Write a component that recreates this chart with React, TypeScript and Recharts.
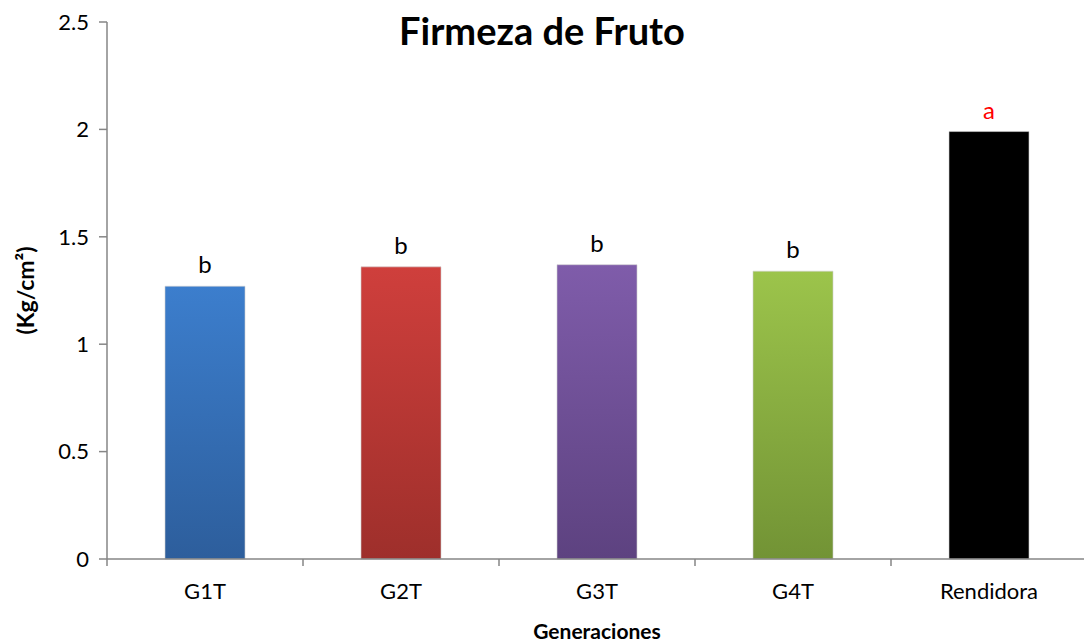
import { BarChart, Bar, XAxis, YAxis, Cell, LabelList } from 'recharts'

const categories = ['G1T', 'G2T', 'G3T', 'G4T', 'Rendidora']
const firmeza = [1.27, 1.36, 1.37, 1.34, 1.99]
const letras = ['b', 'b', 'b', 'b', 'a']
const yTicks = [0, 0.5, 1, 1.5, 2, 2.5]
const boundaryTicks = [0, 1, 2, 3, 4, 5]

// top / bottom colour of each bar's gradient
const gradTop = ['#3c7ecd', '#cf3f3c', '#7f5caa', '#9cc44b', '#000000']
const gradBottom = ['#2d5e9c', '#9e2f2b', '#5d4280', '#729335', '#000000']

const data = categories.map((name, i) => ({ name, firmeza: firmeza[i], letra: letras[i] }))

const FONT = 'Lato, "Open Sans", sans-serif'

function LetterLabel(props: any) {
  const { x, y, width, value } = props
  return (
    <text
      x={Number(x) + Number(width) / 2}
      y={Number(y) - 13}
      textAnchor="middle"
      fontFamily={FONT}
      fontSize={24}
      fill={value === 'a' ? '#ff0000' : '#000000'}
    >
      {value}
    </text>
  )
}

function YTitle(props: any) {
  const { viewBox } = props
  const cx = 25
  const cy = viewBox.y + viewBox.height / 2
  return (
    <text
      x={cx}
      y={cy}
      transform={`rotate(-90 ${cx} ${cy})`}
      textAnchor="middle"
      dominantBaseline="central"
      fontFamily={FONT}
      fontSize={23}
      fontWeight={700}
      fill="#000"
    >
      (Kg/cm²)
    </text>
  )
}

export default function App() {
  return (
    <div style={{ position: 'absolute', left: 0, top: 0, width: 1084, height: 643, overflow: 'hidden', background: '#fff' }}>
      <div
        style={{
          position: 'absolute', left: 0, width: 1084, top: 7, textAlign: 'center',
          fontFamily: FONT, fontWeight: 700, fontSize: 38, color: '#000', lineHeight: '46px',
        }}
      >
        Firmeza de Fruto
      </div>
      <BarChart
        width={1092}
        height={643}
        data={data}
        margin={{ top: 22, right: 5, left: 0, bottom: 0 }}
        style={{ fontFamily: FONT }}
      >
        <defs>
          {gradTop.map((c, i) => (
            <linearGradient key={i} id={`g${i}`} x1="0" y1="0" x2="0" y2="1">
              <stop offset="0%" stopColor={c} />
              <stop offset="100%" stopColor={gradBottom[i]} />
            </linearGradient>
          ))}
        </defs>
        {/* axis line + tick marks between categories */}
        <XAxis
          xAxisId="a"
          type="number"
          dataKey="edge"
          domain={[0, 5]}
          ticks={boundaryTicks}
          interval={0}
          allowDataOverflow
          tick={{ fill: 'none', fontSize: 1 }}
          tickSize={7}
          height={1}
          axisLine={{ stroke: '#868686', strokeWidth: 1.5 }}
          tickLine={{ stroke: '#868686', strokeWidth: 1.5 }}
        />
        <XAxis
          xAxisId="b"
          dataKey="name"
          axisLine={false}
          tickLine={false}
          tickSize={0}
          tickMargin={23}
          height={83}
          tick={{ fontSize: 22, fill: '#000', fontFamily: FONT }}
          label={{ value: 'Generaciones', position: 'insideBottom', offset: 4, fontSize: 21, fontWeight: 700, fill: '#000', fontFamily: FONT }}
        />
        <YAxis
          domain={[0, 2.5]}
          ticks={yTicks}
          width={107}
          tickSize={8}
          tickMargin={10}
          axisLine={{ stroke: '#868686', strokeWidth: 1.5 }}
          tickLine={{ stroke: '#868686', strokeWidth: 1.5 }}
          tick={{ fontSize: 22, fill: '#000', fontFamily: FONT }}
          label={{ content: YTitle }}
        />
        <Bar dataKey="firmeza" xAxisId="b" barSize={80} isAnimationActive={false}>
          {data.map((d, i) => (
            <Cell key={d.name} fill={`url(#g${i})`} stroke="#d0d0d0" strokeOpacity={0.6} />
          ))}
          <LabelList dataKey="letra" content={LetterLabel} />
        </Bar>
      </BarChart>
    </div>
  )
}
